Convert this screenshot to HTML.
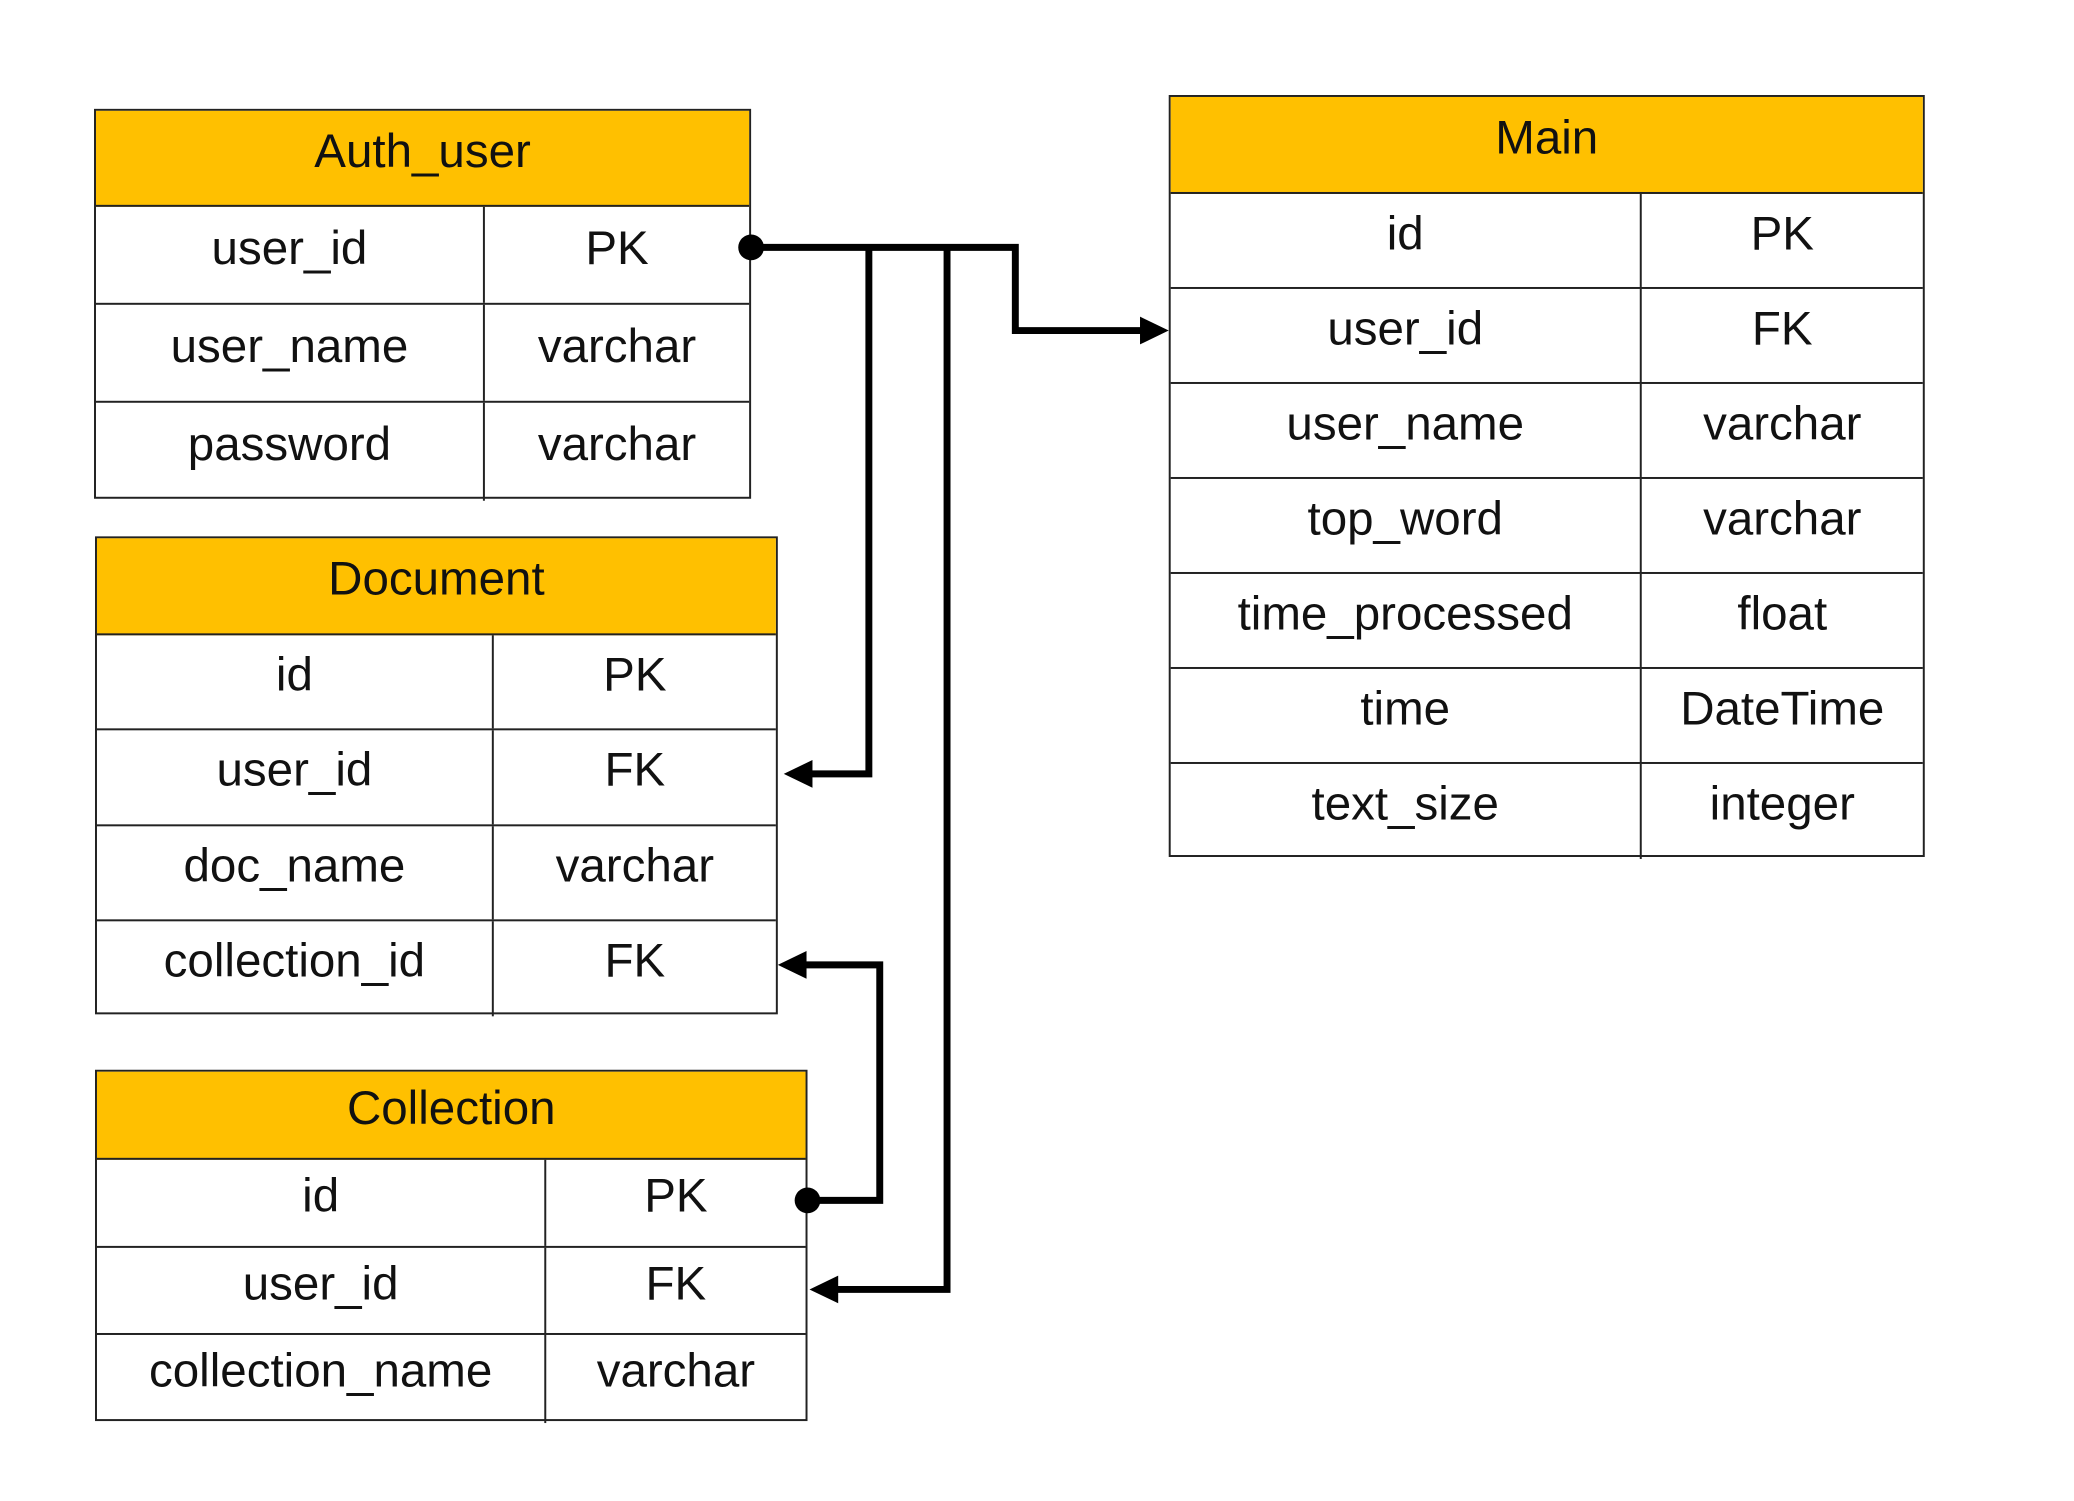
<!DOCTYPE html>
<html><head><style>
body{margin:0;background:#fff;width:2074px;height:1501px;overflow:hidden;position:relative;font-family:"Liberation Sans",sans-serif;}
#wrap{position:absolute;left:0;top:0;width:2074px;height:1501px;transform:scale(0.9896);transform-origin:0 0;}
.t{position:absolute;border:2.5px solid #222;box-sizing:border-box;}
.h{position:absolute;left:0;right:0;top:0;background:#FFC000;border-bottom:2.5px solid #222;box-sizing:border-box;text-align:center;font-size:48px;color:#111;}
.r{position:absolute;left:0;right:0;border-bottom:2.5px solid #222;box-sizing:border-box;}
.r:last-child{border-bottom:none}
.c{position:absolute;top:0;bottom:0;text-align:center;font-size:48px;color:#111;box-sizing:border-box;}
</style></head><body>
<div id="wrap">
<div id="root"></div>
<svg width="2074" height="1501" style="position:absolute;left:0;top:0" fill="none">
<g stroke="#000" stroke-width="7" stroke-linejoin="miter">
<polyline points="759,250 1026,250 1026,334 1160,334"/>
<polyline points="878,250 878,782 810,782"/>
<polyline points="957,250 957,1303 836,1303"/>
<polyline points="816,1213 889,1213 889,975 804,975"/>
</g>
<g fill="#000">
<circle cx="759" cy="250" r="13"/>
<circle cx="816" cy="1213" r="13"/>
<polygon points="1181,334 1152,320 1152,348"/>
<polygon points="792,782 821,768 821,796"/>
<polygon points="818,1303 847,1289 847,1317"/>
<polygon points="786,975 815,961 815,989"/>
</g>
</svg>
</div>
<script>
function table(x,y,w,hh,rows,colx,title){
 let rh=rows.rowH;
 let s=`<div class="t" style="left:${x}px;top:${y}px;width:${w}px;height:${hh+rh*rows.data.length}px">`;
 s+=`<div class="h" style="height:${hh}px;line-height:${hh-14}px">${title}</div>`;
 rows.data.forEach((r,i)=>{
  let top=hh+i*rh;
  s+=`<div class="r" style="top:${top}px;height:${rh}px"><div class="c" style="left:0;width:${colx}px;border-right:2.5px solid #222;line-height:${rh-14}px">${r[0]}</div><div class="c" style="left:${colx}px;right:0;line-height:${rh-14}px">${r[1]}</div></div>`;
 });
 return s+'</div>';
}
let h='';
h+=table(95,110,664,97,{rowH:99,data:[['user_id','PK'],['user_name','varchar'],['password','varchar']]},393,'Auth_user');
h+=table(1181,96,764,98,{rowH:96,data:[['id','PK'],['user_id','FK'],['user_name','varchar'],['top_word','varchar'],['time_processed','float'],['time','DateTime'],['text_size','integer']]},476,'Main');
h+=table(96,542,690,98,{rowH:96.3,data:[['id','PK'],['user_id','FK'],['doc_name','varchar'],['collection_id','FK']]},401,'Document');
h+=table(96,1081,720,89,{rowH:88.7,data:[['id','PK'],['user_id','FK'],['collection_name','varchar']]},454,'Collection');
document.getElementById('root').innerHTML=h;
</script>
</body></html>
